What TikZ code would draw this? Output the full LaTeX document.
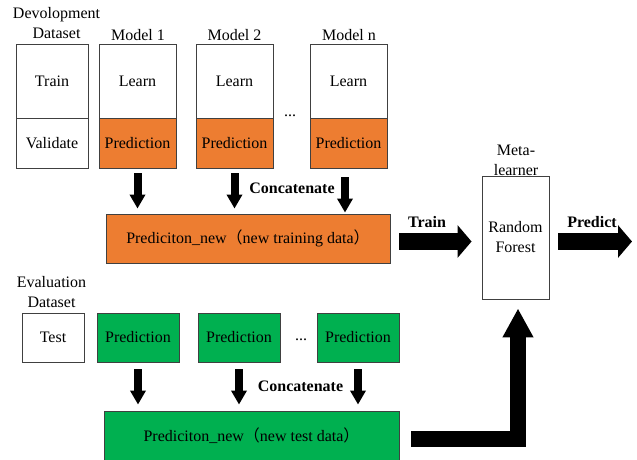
\documentclass[tikz,border=0pt]{standalone}
\usepackage{fontspec}
\setmainfont{Liberation Serif}
\newfontfamily\cjk{Noto Sans CJK SC}
\usepackage{tikz}
\usetikzlibrary{arrows.meta}
\usetikzlibrary{calc}

\definecolor{predorange}{HTML}{ED7D31}
\definecolor{predgreen}{HTML}{00B050}
\definecolor{boxline}{HTML}{404040}

\tikzset{
  box/.style={draw=boxline, line width=0.9pt, inner sep=0pt, align=center},
  orangebox/.style={box, fill=predorange},
  greenbox/.style={box, fill=predgreen},
  lbl/.style={align=center, inner sep=0pt},
  boldlbl/.style={inner sep=0pt, font=\fontsize{16}{20}\selectfont\bfseries},
  downarrow/.style={line width=8pt, -{Triangle[width=15pt,length=14pt]}},
  bigarrow/.style={line width=17pt, -{Triangle[width=32pt,length=14pt]}},
  uparrow/.style={line width=16pt, -{Triangle[width=29pt,length=29pt]}}
}

\begin{document}
\begin{tikzpicture}[x=1pt, y=-1pt, every node/.style={font=\fontsize{16}{20}\selectfont}]
\useasboundingbox (0,0) rectangle (637,460);

% development part
\path
(56.5,23) node[lbl] (devlbl) {Devolopment\\Dataset}
(52,81) node[box, minimum width=72pt, minimum height=74pt] (train) {Train}
(52,143) node[box, minimum width=72pt, minimum height=50pt] (valid) {Validate}
(138,35.5) node[lbl] (m1lbl) {Model 1}
(234.5,35.5) node[lbl] (m2lbl) {Model 2}
(349,35.5) node[lbl] (mnlbl) {Model n}
(137.5,81) node[box, minimum width=77pt, minimum height=74pt] (learn1) {Learn}
(137.5,143) node[orangebox, minimum width=77pt, minimum height=50pt] (pred1) {Prediction}
(234.5,81) node[box, minimum width=77pt, minimum height=74pt] (learn2) {Learn}
(234.5,143) node[orangebox, minimum width=77pt, minimum height=50pt] (pred2) {Prediction}
(348.5,81) node[box, minimum width=77pt, minimum height=74pt] (learnn) {Learn}
(348.5,143) node[orangebox, minimum width=77pt, minimum height=50pt] (predn) {Prediction}
(290,116) node[lbl, anchor=base] (dots1) {...}
(248,238.5) node[orangebox, minimum width=284pt, minimum height=49pt] (concat) {Prediciton\_new{\cjk （}new training data{\cjk ）}}
(292,188) node[boldlbl] (cat1) {Concatenate};

\draw[downarrow, shorten <=5pt, shorten >=5pt] (pred1.south) -- (pred1.south |- concat.north);
\draw[downarrow, shorten <=5pt, shorten >=5pt] (pred2.south) -- (pred2.south |- concat.north);
\draw[downarrow, shorten <=9pt, shorten >=1pt] ([xshift=-3.5pt]predn.south) -- ([xshift=-3.5pt]predn.south |- concat.north);

% meta learner
\path
(516,160) node[lbl] (metalbl) {Meta-\\learner}
(515.5,237.5) node[box, minimum width=67pt, minimum height=123pt] (meta) {Random\\Forest}
(427,222) node[boldlbl] (trainlbl) {Train}
(592,222) node[boldlbl] (predlbl) {Predict};
\coordinate (out) at (632,241.5);

\draw[bigarrow, shorten <=9pt, shorten >=10pt] ([yshift=-3pt]concat.east) -- ([yshift=-3pt]concat.east -| meta.west);
\draw[bigarrow, shorten <=9pt] (meta.east |- out) -- (out);

% evaluation part
\path
(51.5,292) node[lbl] (evallbl) {Evaluation\\Dataset}
(53,337.5) node[box, minimum width=62pt, minimum height=49pt] (test) {Test}
(138,337.5) node[greenbox, minimum width=82pt, minimum height=49pt] (gpred1) {Prediction}
(239,337.5) node[greenbox, minimum width=82pt, minimum height=49pt] (gpred2) {Prediction}
(358,337.5) node[greenbox, minimum width=82pt, minimum height=49pt] (gpredn) {Prediction}
(301,340) node[lbl, anchor=base] (dots2) {...}
(251.5,436) node[greenbox, minimum width=295pt, minimum height=50pt] (newtest) {Prediciton\_new{\cjk （}new test data{\cjk ）}}
(300.5,386) node[boldlbl] (cat2) {Concatenate};

\draw[downarrow, shorten <=7pt, shorten >=6pt] (gpred1.south) -- (gpred1.south |- newtest.north);
\draw[downarrow, shorten <=7pt, shorten >=6pt] (gpred2.south) -- (gpred2.south |- newtest.north);
\draw[downarrow, shorten <=7pt, shorten >=6pt] (gpredn.south) -- (gpredn.south |- newtest.north);

\draw[uparrow, shorten <=12pt, shorten >=9pt] ([yshift=-3pt]newtest.east) -| ([xshift=2.5pt]meta.south);

\end{tikzpicture}
\end{document}
